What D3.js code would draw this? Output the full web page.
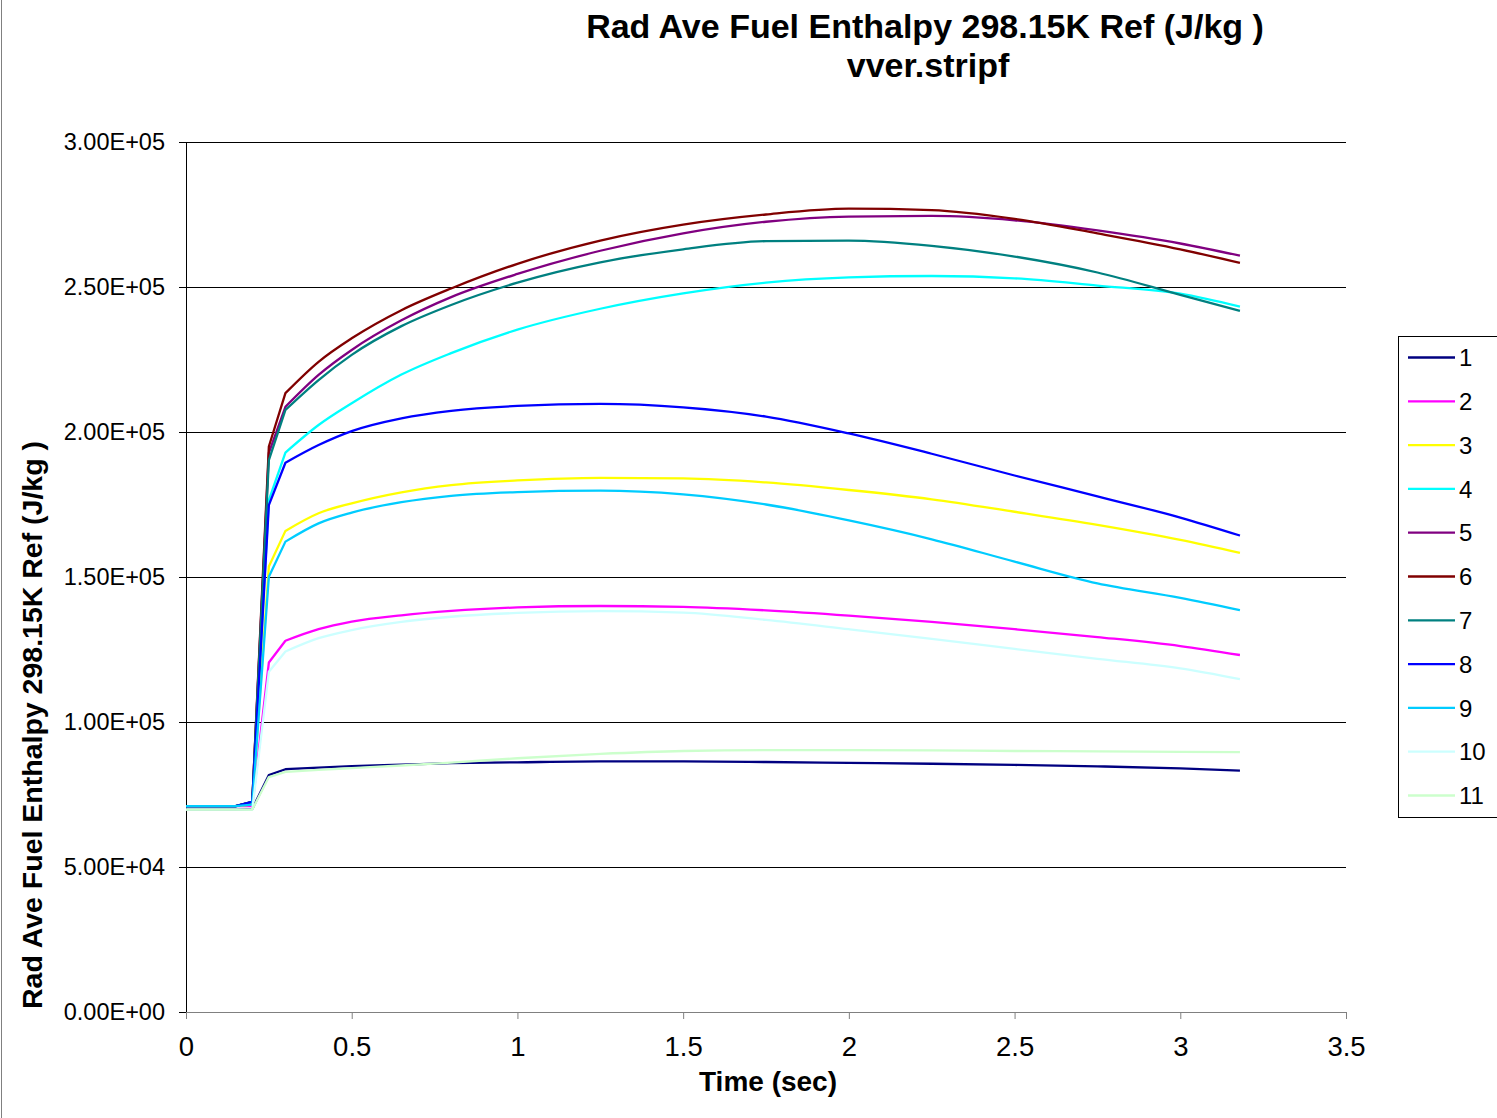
<!DOCTYPE html>
<html>
<head>
<meta charset="utf-8">
<title>Rad Ave Fuel Enthalpy</title>
<style>
body {
  margin: 0px;
  background: #fff;
}
text {
  font-family: "Liberation Sans", Arial, sans-serif;
  fill: #000;
}
.title, .axis-title {
  font-weight: bold;
}
.grid line {
  stroke: #000;
  stroke-width: 1;
}
.series {
  fill: none;
  stroke-width: 2.3;
  stroke-linejoin: round;
}
</style>
<script src="https://d3js.org/d3.v7.min.js"></script>
</head>
<body>
<script>

var width = 1497, height = 1118;

// time points (sec)
var time = [0, 0.05, 0.1, 0.15, 0.2, 0.25, 0.3, 0.4, 0.5, 0.65, 0.8, 1.0, 1.25, 1.5, 1.75, 2.0, 2.25, 2.5, 2.75, 3.0, 3.18];

// enthalpy per radial node (J/kg)
var h1  = [69800, 69800, 69800, 69800, 70000, 81700, 83700, 84300, 84800, 85300, 85800, 86100, 86400, 86400, 86200, 85900, 85600, 85200, 84700, 84000, 83200];
var h2  = [71000, 71000, 71000, 71000, 71000, 120500, 128000, 132000, 134600, 136800, 138300, 139500, 140000, 139700, 138500, 136700, 134500, 132000, 129300, 126200, 123100];
var h3  = [71000, 71000, 71000, 71000, 71500, 153600, 165900, 172000, 175400, 179200, 181700, 183300, 184200, 184000, 182600, 180000, 176800, 172500, 168000, 162800, 158300];
var h4  = [71000, 71000, 71000, 71000, 72500, 176500, 192900, 202400, 209900, 219800, 227200, 235300, 242500, 247800, 251500, 253300, 253800, 253000, 250500, 247700, 243200];
var h5  = [71000, 71000, 71000, 71000, 72500, 192800, 208700, 219700, 228300, 238500, 246500, 254500, 262500, 268500, 272500, 274300, 274500, 273000, 269500, 265000, 260800];
var h6  = [71000, 71000, 71000, 71000, 72500, 195000, 213400, 224200, 232300, 242000, 249500, 258000, 266000, 271500, 275000, 277000, 276500, 273500, 268500, 263000, 258300];
var h7  = [71000, 71000, 71000, 71000, 72500, 190300, 207600, 217900, 226600, 236500, 243800, 251500, 258500, 263000, 265800, 266000, 264200, 260500, 255000, 247300, 241800];
var h8  = [71000, 71000, 71000, 71000, 72500, 174800, 189400, 195500, 200300, 204700, 207300, 209000, 209700, 208500, 205300, 199500, 192500, 185000, 177800, 170500, 164300];
var h9  = [71000, 71000, 71000, 71000, 71500, 150100, 162200, 168500, 172200, 175800, 178000, 179300, 179800, 178500, 175000, 169500, 163000, 155300, 147800, 142800, 138600];
var h10 = [69800, 69800, 69800, 69800, 69800, 117300, 124300, 128900, 131700, 134500, 136300, 137600, 138200, 137700, 135200, 132000, 128700, 125200, 121800, 118500, 114800];
var h11 = [69800, 69800, 69800, 69800, 69800, 81000, 82800, 83500, 84100, 85000, 86000, 87500, 89000, 90000, 90300, 90300, 90200, 90000, 89900, 89700, 89600];

var seriesNames = ["1", "2", "3", "4", "5", "6", "7", "8", "9", "10", "11"];
var seriesValues = [h1, h2, h3, h4, h5, h6, h7, h8, h9, h10, h11];
var seriesColors = ["#000080", "#FF00FF", "#FFFF00", "#00FFFF", "#800080", "#800000",
                    "#008080", "#0000FF", "#00CCFF", "#CCFFFF", "#CCFFCC"];

var yTicks = [0, 50000, 100000, 150000, 200000, 250000, 300000];
var xTicks = [0, 0.5, 1, 1.5, 2, 2.5, 3, 3.5];

var margin = {top: 142, right: 151, bottom: 106, left: 186};
var plotW = width - margin.left - margin.right;
var plotH = height - margin.top - margin.bottom;

var svg = d3.select("body").append("svg")
    .attr("width", width)
    .attr("height", height);

// page border on the left edge
svg.append("line")
    .attr("x1", 1.5).attr("x2", 1.5)
    .attr("y1", 0).attr("y2", height)
    .attr("stroke", "#808080");

var x = d3.scaleLinear().domain([0, 3.5]).range([0, plotW]);
var y = d3.scaleLinear().domain([0, 300000]).range([plotH, 0]);

// excel style 3.00E+05
function sci(d) {
  var parts = d.toExponential(2).toUpperCase().split("E");
  var e = +parts[1];
  var sign = e < 0 ? "-" : "+";
  var pad = ("0" + Math.abs(e)).slice(-2);
  return parts[0] + "E" + sign + pad;
}

var g = svg.append("g")
    .attr("transform", "translate(" + margin.left + "," + margin.top + ")");

// horizontal gridlines
g.append("g")
    .attr("class", "grid")
  .selectAll("line")
    .data(yTicks)
  .enter().append("line")
    .attr("x1", 0)
    .attr("x2", plotW)
    .attr("y1", function(d) { return Math.round(y(d)) + 0.5; })
    .attr("y2", function(d) { return Math.round(y(d)) + 0.5; });

// y axis
var yAxis = g.append("g")
    .call(d3.axisLeft(y).tickValues(yTicks).tickFormat(sci).tickSize(7).tickPadding(14));
yAxis.select(".domain").attr("stroke", "#000");
yAxis.selectAll("text")
    .style("font-size", "23.5px")
    .style("font-family", "'Liberation Sans', Arial, sans-serif");

// x axis
var xAxis = g.append("g")
    .attr("transform", "translate(0," + plotH + ")")
    .call(d3.axisBottom(x).tickValues(xTicks).tickFormat(d3.format("")).tickSize(7).tickSizeOuter(0).tickPadding(17));
xAxis.select(".domain").attr("stroke", "#808080");
xAxis.selectAll(".tick line").attr("stroke", "#808080");
xAxis.selectAll("text")
    .style("font-size", "27.5px")
    .style("font-family", "'Liberation Sans', Arial, sans-serif");

// series lines: straight through the step, smooth after it
var split = time.indexOf(0.3);

var stepLine = d3.line()
    .x(function(d) { return x(d[0]); })
    .y(function(d) { return y(d[1]); });

var smoothLine = d3.line()
    .curve(d3.curveMonotoneX)
    .x(function(d) { return x(d[0]); })
    .y(function(d) { return y(d[1]); });

var seriesG = g.selectAll("g.series-g")
    .data(seriesValues)
  .enter().append("g")
    .attr("class", "series-g");

seriesG.append("path")
    .attr("class", "series")
    .attr("stroke", function(d, i) { return seriesColors[i]; })
    .attr("d", function(d) {
      var pts = d.map(function(v, i) { return [time[i], v]; });
      return stepLine(pts.slice(0, split + 1)) + smoothLine(pts.slice(split)).replace(/^M[^LC]*/, "");
    });

// titles
svg.append("text")
    .attr("class", "title")
    .attr("x", 925)
    .attr("y", 38)
    .attr("text-anchor", "middle")
    .style("font-size", "34px")
    .text("Rad Ave Fuel Enthalpy 298.15K Ref (J/kg )");

svg.append("text")
    .attr("class", "title")
    .attr("x", 928)
    .attr("y", 77)
    .attr("text-anchor", "middle")
    .style("font-size", "34px")
    .text("vver.stripf");

svg.append("text")
    .attr("class", "axis-title")
    .attr("x", 768)
    .attr("y", 1091)
    .attr("text-anchor", "middle")
    .style("font-size", "28px")
    .text("Time (sec)");

svg.append("text")
    .attr("class", "axis-title")
    .attr("transform", "translate(42," + (margin.top + plotH / 2 + 148) + ") rotate(-90)")
    .attr("text-anchor", "middle")
    .style("font-size", "28.5px")
    .text("Rad Ave Fuel Enthalpy 298.15K Ref (J/kg )");

// legend
var legend = svg.append("g")
    .attr("transform", "translate(1398,336)");

legend.append("rect")
    .attr("x", 0.5)
    .attr("y", 0.5)
    .attr("width", 120)
    .attr("height", 481)
    .attr("fill", "#fff")
    .attr("stroke", "#000");

var item = legend.selectAll("g.item")
    .data(seriesNames)
  .enter().append("g")
    .attr("class", "item")
    .attr("transform", function(d, i) { return "translate(0," + (21.5 + i * 43.8) + ")"; });

item.append("line")
    .attr("x1", 10)
    .attr("x2", 57)
    .attr("stroke-width", 2.3)
    .attr("stroke", function(d, i) { return seriesColors[i]; });

item.append("text")
    .attr("x", 61)
    .attr("dy", "0.36em")
    .style("font-size", "24px")
    .text(function(d) { return d; });

</script>
</body>
</html>
